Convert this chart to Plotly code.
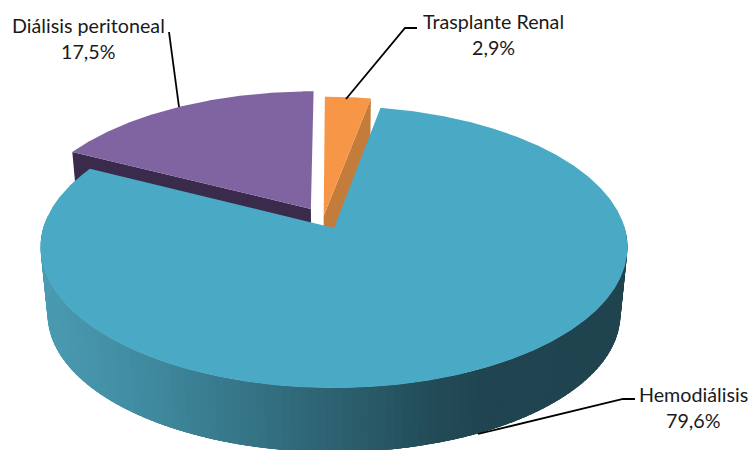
import math
import plotly.graph_objects as go

labels = ["Trasplante Renal", "Hemodiálisis", "Diálisis peritoneal"]
values = [2.9, 79.6, 17.5]
top_colors = ["#f79646", "#4aaac5", "#8064a2"]
cut_colors = ["#c47c3a", "#2f6b7d", "#3a2b4c"]
explode_u = [-0.036, 0.0, -0.081]
explode_v = [-0.0877, 0.0, -0.14]
wall_stops = [(40, (74, 155, 178)), (130, (66, 141, 163)), (250, (52, 116, 133)),
              (350, (43, 94, 109)), (440, (34, 74, 86)), (480, (32, 69, 80)), (630, (32, 68, 79))]

CX, CY, A, B, K = 334.0, 228.0, 290.8, 138.4, 0.135
DEPTH, SHRINK = 68.0, 0.976


def project(u, v, bottom=False):
    d = 1 - K * v
    x, y = CX + A * u / d, CY + B * v / d
    if bottom:
        x, y = CX + SHRINK * (x - CX), CY + SHRINK * (y - CY) + DEPTH
    return x, y


def rim(i, t, bottom=False):
    r = math.radians(t)
    return project(math.sin(r) + explode_u[i], -math.cos(r) + explode_v[i], bottom)


def wall_color(x):
    for (x0, c0), (x1, c1) in zip(wall_stops, wall_stops[1:]):
        if x <= x1:
            f = max(0, (x - x0) / (x1 - x0))
            return "rgb(%d,%d,%d)" % tuple(round(a + (b - a) * f) for a, b in zip(c0, c1))
    return "rgb(%d,%d,%d)" % wall_stops[-1][1]


def poly(fig, pts, color):
    xs = [p[0] for p in pts] + [pts[0][0]]
    ys = [p[1] for p in pts] + [pts[0][1]]
    fig.add_trace(go.Scatter(x=xs, y=ys, mode="lines", fill="toself", fillcolor=color,
                             line=dict(width=0), hoverinfo="skip", showlegend=False))


starts, acc = [], 0.0
for val in values:
    starts.append(acc)
    acc += val * 3.6

fig = go.Figure()
for i in [2, 0, 1]:
    t0, t1 = starts[i], starts[i] + values[i] * 3.6
    apex_t = project(explode_u[i], explode_v[i])
    apex_b = project(explode_u[i], explode_v[i], True)
    # cut face that faces the viewer: right edge of the orange slice, left edge of the purple one
    if i != 1:
        t = t1 if i == 0 else t0
        poly(fig, [apex_t, rim(i, t), rim(i, t, True), apex_b], cut_colors[i])
    # outer wall, front half only: segments overlap so no seams show
    n = max(2, int((t1 - t0) / 1.5))
    ts = [t0 + (t1 - t0) * j / n for j in range(n + 1)]
    for a, b in zip(ts, ts[1:]):
        m = (a + b) / 2 % 360
        if 88 < m < 272:
            bb = min(b + 4, t1)
            pa, pb = rim(i, a), rim(i, b)
            poly(fig, [pa, rim(i, (a + bb) / 2), rim(i, bb), rim(i, bb, True), rim(i, (a + bb) / 2, True), rim(i, a, True)],
                 wall_color((pa[0] + pb[0]) / 2))
    poly(fig, [apex_t] + [rim(i, t0 + (t1 - t0) * j / (4 * n)) for j in range(4 * n + 1)], top_colors[i])

leaders = {0: [(346, 99), (405, 28), (417, 28)],
           1: [(478, 434), (623, 399), (635, 399)],
           2: [(179, 107), (169, 32)]}
for pts in leaders.values():
    fig.add_trace(go.Scatter(x=[p[0] for p in pts], y=[p[1] for p in pts], mode="lines",
                             line=dict(color="black", width=1.8), hoverinfo="skip", showlegend=False))

text_pos = {0: (493, 21), 1: (693, 394), 2: (88, 25)}
annotations = []
for i, (x, y) in text_pos.items():
    for txt, yy in ((labels[i], y), (f"{values[i]:.1f}%".replace(".", ","), y + 26)):
        annotations.append(dict(x=x, y=yy, text=txt, showarrow=False, xanchor="center", yanchor="middle",
                                font=dict(family="Lato", size=19.7, color="#1a1a1a")))

fig.update_layout(width=751, height=450, margin=dict(l=0, r=0, t=0, b=0), autosize=False,
                  paper_bgcolor="white", plot_bgcolor="white", showlegend=False, annotations=annotations,
                  xaxis=dict(range=[0, 751], visible=False, fixedrange=True),
                  yaxis=dict(range=[450, 0], visible=False, fixedrange=True))
fig.write_html("out.html", config={"displayModeBar": False},
               post_script="document.body.style.margin='0';document.documentElement.style.overflow='hidden';")
